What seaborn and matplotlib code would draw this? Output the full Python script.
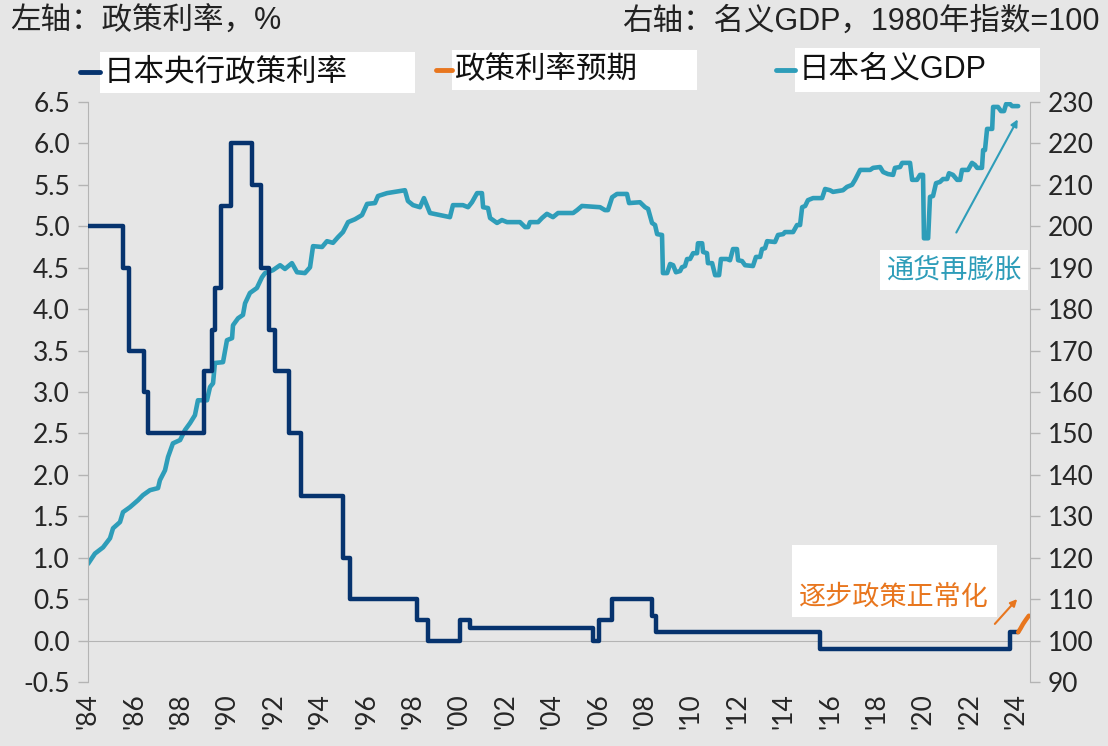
import matplotlib
matplotlib.use("Agg")
import matplotlib.pyplot as plt
import seaborn as sns
from matplotlib.patches import Rectangle
from matplotlib.lines import Line2D

# BOJ policy rate: year each level starts (decimal year) and level in %
rate_year = [1984.0, 1985.52, 1985.75, 1986.4, 1986.6, 1989.0, 1989.33, 1989.48,
             1989.75, 1990.18, 1991.08, 1991.45, 1991.8, 1992.05, 1992.65, 1993.2,
             1995.0, 1995.3, 1998.2, 1998.65, 2000.03, 2000.47, 2005.77, 2006.03,
             2006.6, 2008.3, 2008.48, 2015.55, 2023.74, 2024.09]
rate_value = [5.0, 4.5, 3.5, 3.0, 2.5, 3.25, 3.75, 4.25,
              5.25, 6.0, 5.5, 4.5, 3.75, 3.25, 2.5, 1.75,
              1.0, 0.5, 0.25, 0.0, 0.25, 0.15, 0.0, 0.25,
              0.5, 0.3, 0.1, -0.1, 0.1, 0.1]

# expected policy rate path
exp_year = [2024.09, 2024.2, 2024.3, 2024.42, 2024.55]
exp_value = [0.1, 0.15, 0.2, 0.25, 0.3]

# nominal GDP, 1980 = 100
gdp_year = [1984.00, 1984.30, 1984.65, 1984.95, 1985.08, 1985.38, 1985.51, 1985.81,
            1986.16, 1986.37, 1986.67, 1987.02, 1987.10, 1987.32, 1987.45, 1987.66,
            1987.97, 1988.18, 1988.40, 1988.61, 1988.74, 1989.13, 1989.26, 1989.39,
            1989.47, 1989.82, 1989.99, 1990.21, 1990.25, 1990.47, 1990.68, 1990.77,
            1990.98, 1991.28, 1991.50, 1991.63, 1991.97, 1992.28, 1992.49, 1992.79,
            1993.01, 1993.35, 1993.57, 1993.70, 1994.09, 1994.30, 1994.56, 1994.78,
            1994.99, 1995.21, 1995.51, 1995.81, 1996.03, 1996.37, 1996.50, 1996.89,
            1997.45, 1997.66, 1997.79, 1998.01, 1998.31, 1998.48, 1998.74, 1999.17,
            1999.60, 1999.73, 2000.16, 2000.38, 2000.55, 2000.77, 2000.98, 2001.03,
            2001.24, 2001.33, 2001.63, 2001.84, 2002.06, 2002.62, 2002.84, 2002.97,
            2003.05, 2003.40, 2003.57, 2003.78, 2004.04, 2004.26, 2004.91, 2005.08,
            2005.29, 2006.07, 2006.28, 2006.41, 2006.59, 2006.80, 2007.23, 2007.32,
            2007.79, 2008.01, 2008.14, 2008.31, 2008.44, 2008.53, 2008.74, 2008.78,
            2008.96, 2009.09, 2009.22, 2009.34, 2009.52, 2009.60, 2009.73, 2009.82,
            2009.95, 2010.08, 2010.25, 2010.29, 2010.47, 2010.51, 2010.68, 2010.72,
            2010.90, 2011.03, 2011.20, 2011.28, 2011.54, 2011.67, 2011.80, 2011.97,
            2012.02, 2012.19, 2012.32, 2012.66, 2012.79, 2012.97, 2013.05, 2013.18,
            2013.27, 2013.61, 2013.74, 2013.96, 2014.04, 2014.39, 2014.56, 2014.69,
            2014.78, 2014.91, 2015.03, 2015.25, 2015.64, 2015.77, 2015.98, 2016.11,
            2016.54, 2016.71, 2016.93, 2017.06, 2017.28, 2017.71, 2017.84, 2018.14,
            2018.27, 2018.48, 2018.70, 2018.78, 2019.00, 2019.09, 2019.43, 2019.52,
            2019.73, 2019.86, 2019.99, 2020.03, 2020.21, 2020.29, 2020.42, 2020.55,
            2020.72, 2020.85, 2021.03, 2021.11, 2021.28, 2021.46, 2021.59, 2021.67,
            2021.93, 2022.10, 2022.23, 2022.32, 2022.53, 2022.58, 2022.66, 2022.75,
            2022.97, 2023.01, 2023.22, 2023.35, 2023.48, 2023.57, 2023.74, 2023.83,
            2024.09]
gdp_value = [118.5, 121.0, 122.5, 124.7, 127.1, 128.6, 131.0, 132.2,
             133.9, 135.1, 136.3, 136.8, 138.7, 141.1, 144.3, 147.6,
             148.4, 150.8, 152.5, 154.4, 158.0, 158.0, 161.2, 162.1,
             167.0, 167.2, 172.5, 173.0, 176.1, 177.8, 178.6, 181.4,
             183.9, 185.1, 187.7, 188.7, 189.4, 190.6, 189.7, 191.1,
             188.9, 188.7, 190.1, 195.2, 195.0, 196.4, 196.0, 197.4,
             198.6, 201.0, 201.7, 202.7, 205.4, 205.6, 207.3, 208.0,
             208.5, 208.7, 206.1, 205.1, 204.6, 206.8, 203.2, 202.7,
             202.2, 205.1, 205.1, 204.6, 205.8, 208.0, 208.0, 204.6,
             204.4, 202.0, 200.8, 201.5, 201.0, 201.0, 199.8, 199.8,
             201.0, 201.0, 202.0, 203.0, 202.2, 203.2, 203.2, 203.9,
             204.9, 204.6, 203.9, 203.9, 207.0, 207.8, 207.8, 205.6,
             205.8, 204.6, 204.2, 200.8, 200.3, 198.1, 197.9, 188.7,
             188.7, 190.9, 190.6, 188.9, 189.2, 190.1, 190.4, 192.1,
             192.1, 193.5, 193.5, 195.9, 195.9, 193.8, 193.5, 191.1,
             191.1, 188.2, 188.2, 192.1, 192.1, 191.8, 194.5, 194.5,
             191.8, 191.6, 190.6, 190.4, 192.6, 192.6, 194.5, 194.7,
             196.4, 196.2, 197.9, 198.1, 198.6, 198.6, 200.3, 200.3,
             204.6, 204.9, 206.3, 206.8, 206.8, 209.0, 208.7, 208.3,
             208.7, 209.5, 210.0, 211.2, 213.6, 213.6, 214.1, 214.3,
             213.1, 212.6, 212.4, 214.1, 214.3, 215.3, 215.3, 211.2,
             211.2, 212.4, 212.4, 197.1, 197.1, 207.1, 207.3, 210.4,
             210.7, 211.4, 211.4, 212.8, 212.4, 211.2, 211.2, 213.6,
             213.6, 215.3, 214.8, 214.1, 214.1, 218.4, 218.4, 223.5,
             223.5, 228.8, 228.8, 227.8, 227.8, 229.5, 229.5, 229.0,
             229.0]

x_ticks = [1984, 1986, 1988, 1990, 1992, 1994, 1996, 1998, 2000, 2002, 2004,
           2006, 2008, 2010, 2012, 2014, 2016, 2018, 2020, 2022, 2024]
x_labels = ["'84", "'86", "'88", "'90", "'92", "'94", "'96", "'98", "'00", "'02", "'04",
            "'06", "'08", "'10", "'12", "'14", "'16", "'18", "'20", "'22", "'24"]
left_ticks = [-0.5, 0.0, 0.5, 1.0, 1.5, 2.0, 2.5, 3.0, 3.5, 4.0, 4.5, 5.0, 5.5, 6.0, 6.5]
right_ticks = [90, 100, 110, 120, 130, 140, 150, 160, 170, 180, 190, 200, 210, 220, 230]

NAVY = "#06336E"
ORANGE = "#E8761E"
TEAL = "#2E9DB9"
BG = "#E6E6E6"
AXIS = "#B4B4B4"
# Latin letters/digits in an Arial-like face, Chinese from Noto CJK
CJK = ["Liberation Sans", "Noto Sans CJK SC", "DejaVu Sans"]

sns.set_style("white")
plt.rcParams["font.family"] = ["Lato", "Noto Sans CJK SC", "DejaVu Sans"]

fig = plt.figure(figsize=(11.08, 7.46), dpi=100, facecolor=BG)
ax = fig.add_axes([0.0794, 0.0858, 0.8502, 0.7775])
ax2 = ax.twinx()
ax2.set_facecolor(BG)
ax.set_zorder(ax2.get_zorder() + 1)
ax.patch.set_visible(False)

sns.lineplot(x=gdp_year, y=gdp_value, ax=ax2, color=TEAL, linewidth=3.3,
             estimator=None, sort=False)
sns.lineplot(x=rate_year, y=rate_value, ax=ax, color=NAVY, linewidth=3.2,
             drawstyle="steps-post", estimator=None, sort=False, zorder=4)
sns.lineplot(x=exp_year, y=exp_value, ax=ax, color=ORANGE, linewidth=3.2,
             estimator=None, sort=False, zorder=4)

ax.set_xlim(1984, 2024.6)
ax.set_ylim(-0.5, 6.5)
ax2.set_ylim(90, 230)
ax.set_yticks(left_ticks)
ax.set_yticklabels([f"{t:.1f}" for t in left_ticks])
ax2.set_yticks(right_ticks)

# x axis line crosses at 0, labels at the bottom
ax.spines["bottom"].set_position(("data", 0))
ax.set_xticks(x_ticks)
ax.tick_params(axis="x", direction="out", length=7, width=1, color=AXIS, labelbottom=False)
sec = ax.secondary_xaxis("bottom")
sec.set_xticks(x_ticks)
sec.set_xticklabels(x_labels, rotation=90)
sec.tick_params(length=0, labelsize=19, pad=8)
sec.spines["bottom"].set_visible(False)

ax.tick_params(axis="y", direction="out", length=7, width=1, color=AXIS, labelsize=19, pad=6)
ax2.tick_params(axis="y", direction="out", length=7, width=1, color=AXIS, labelsize=19, pad=6)

for a in (ax, ax2):
    a.spines["top"].set_visible(False)
    a.set_xlabel("")
    a.set_ylabel("")
ax.spines["right"].set_visible(False)
ax.spines["left"].set_color(AXIS)
ax.spines["bottom"].set_color(AXIS)
ax2.spines["left"].set_visible(False)
ax2.spines["bottom"].set_visible(False)
ax2.spines["right"].set_color(AXIS)

# titles of the two axes
fig.text(0.009, 0.9705, "左轴：政策利率，%", fontsize=22, family=CJK, va="center",
         color="#222222", fontweight="light")
fig.text(0.9928, 0.9705, "右轴：名义GDP，1980年指数=100", fontsize=22, family=CJK,
         va="center", ha="right", color="#222222", fontweight="light")

# legend: short line + text on white boxes
legend_items = [
    ("日本央行政策利率", NAVY, 0.0722, 0.0903, 0.2843, 0.8753, 0.0550, 0.9035),
    ("政策利率预期", ORANGE, 0.3935, 0.4080, 0.2211, 0.8794, 0.0536, 0.9062),
    ("日本名义GDP", TEAL, 0.7004, 0.7175, 0.2211, 0.8767, 0.0590, 0.9062),
]
for label, col, lx, bx, bw, by, bh, ty in legend_items:
    fig.patches.append(Rectangle((bx, by), bw, bh, transform=fig.transFigure,
                                 facecolor="white", edgecolor="none", zorder=1))
    fig.lines.append(Line2D([lx, bx], [ty, ty], transform=fig.transFigure,
                            color=col, linewidth=3.5, zorder=2))
    fig.text(bx + 0.003, ty, label, fontsize=22, family=CJK, va="center", zorder=3,
             color="#111111", fontweight="light")

# annotations
fig.patches.append(Rectangle((0.7942, 0.6113), 0.1336, 0.0536, transform=fig.transFigure,
                             facecolor="white", edgecolor="none", zorder=1))
fig.text(0.8619, 0.6381, "通货再膨胀", fontsize=19.5, family=CJK, color=TEAL,
         ha="center", va="center", zorder=3, fontweight="light")
fig.patches.append(Rectangle((0.7148, 0.1729), 0.1850, 0.0965, transform=fig.transFigure,
                             facecolor="white", edgecolor="none", zorder=1))
fig.text(0.8069, 0.1984, "逐步政策正常化", fontsize=19.5, family=CJK, color=ORANGE,
         ha="center", va="center", zorder=3, fontweight="light")

ax.annotate("", xy=(0.9197, 0.8432), xytext=(0.8619, 0.685), xycoords="figure fraction",
            textcoords="figure fraction",
            arrowprops=dict(arrowstyle="-|>", color=TEAL, lw=1.5, mutation_scale=10))
ax.annotate("", xy=(0.9197, 0.1997), xytext=(0.8962, 0.1609), xycoords="figure fraction",
            textcoords="figure fraction",
            arrowprops=dict(arrowstyle="-|>", color=ORANGE, lw=1.5, mutation_scale=10))

fig.savefig("out.png", dpi=100, facecolor=BG)
